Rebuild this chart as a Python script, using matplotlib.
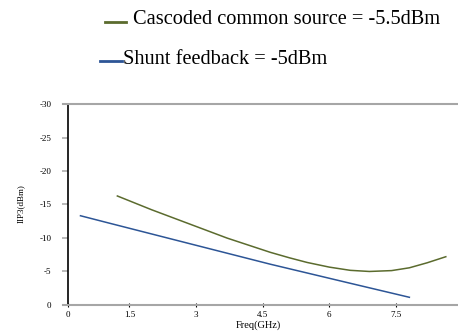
import matplotlib.pyplot as plt
from matplotlib.lines import Line2D

plt.rcParams['font.family'] = ['Liberation Serif', 'DejaVu Serif']

# Datos
freq_shunt = [0.40, 1.06, 2.86, 4.67, 6.47, 7.80]
iip3_shunt = [-13.3, -12.17, -9.11, -6.04, -3.18, -1.08]

freq_casc = [1.23, 2.0, 2.86, 3.7, 4.67, 5.1, 5.5, 6.0, 6.47, 6.9, 7.4, 7.8, 8.2, 8.62]
iip3_casc = [-16.26, -14.2, -12.05, -9.95, -7.82, -7.0, -6.3, -5.6, -5.12, -4.95, -5.08, -5.5, -6.25, -7.16]

xticks = [0, 1.5, 3, 4.5, 6, 7.5, 9]
xtick_labels = ['0', '1.5', '3', '4.5', '6', '7.5', '9']
yticks = [0, -5, -10, -15, -20, -25, -30]

legend_labels = ['Cascoded common source = -5.5dBm', 'Shunt feedback = -5dBm']

color_casc = '#5b6b2e'
color_shunt = '#2d5596'
gray = '#a6a6a6'

W, H = 458, 331
fig = plt.figure(figsize=(W / 100, H / 100), dpi=100)
ax = fig.add_axes([62.7 / W, 26.5 / H, 400 / W, 200.2 / H])

ax.plot(freq_casc, iip3_casc, color=color_casc, lw=1.1)
ax.plot(freq_shunt, iip3_shunt, color=color_shunt, lw=1.1)

ax.set_xlim(0, 9)
ax.set_ylim(0, -30)

# eje y desplazado un poco a la derecha del origen, como en el original
ax.spines['left'].set_position(('data', 0.12))
ax.spines['left'].set_color('black')
ax.spines['left'].set_linewidth(1.2)
for s in ['top', 'bottom']:
    ax.spines[s].set_color(gray)
    ax.spines[s].set_linewidth(1.5)
ax.spines['right'].set_visible(False)

xpos = [0.12] + xticks[1:]
ax.set_xticks(xpos)
ax.set_xticklabels(xtick_labels)
ax.set_yticks(yticks)
ax.set_yticklabels([str(v) for v in yticks])
ax.tick_params(axis='x', direction='inout', length=3, width=0.8, color='black',
               labelsize=6.5, pad=3)
ax.tick_params(axis='y', direction='out', length=4, width=1.1, color=gray,
               labelsize=6.5, pad=8)

fig.text(21 / W, 1 - 204 / H, 'IIP3(dBm)', rotation=90, ha='center', va='center', fontsize=6.5)
fig.text(258 / W, 1 - 325 / H, 'Freq(GHz)', ha='center', va='center', fontsize=7.5)

# leyenda manual
fig.add_artist(Line2D([105 / W, 126 / W], [1 - 21.7 / H] * 2, color=color_casc, lw=2))
fig.text(133 / W, 1 - 24 / H, legend_labels[0], ha='left', va='baseline', fontsize=14.7)
fig.add_artist(Line2D([100 / W, 122 / W], [1 - 61 / H] * 2, color=color_shunt, lw=2))
fig.text(123 / W, 1 - 64 / H, legend_labels[1], ha='left', va='baseline', fontsize=14.7)

fig.savefig('out.png', dpi=100)
